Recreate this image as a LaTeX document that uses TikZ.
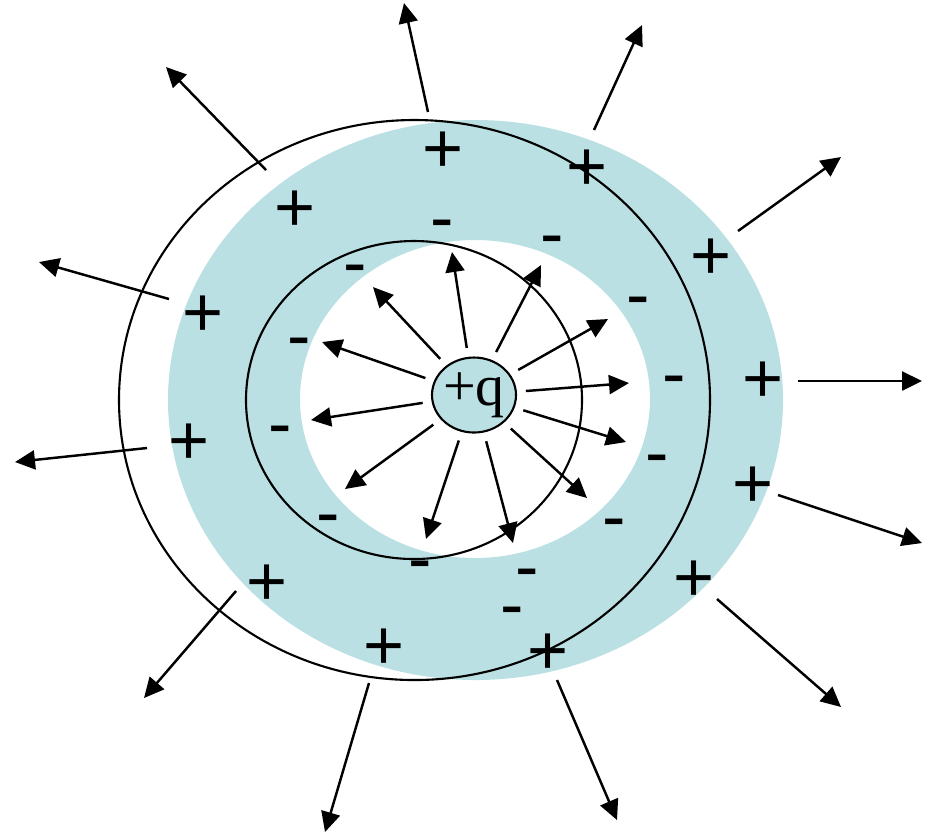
\documentclass[tikz,border=0pt]{standalone}
\usepackage{fontspec}
\setmainfont{Liberation Serif}
\newfontfamily\arial{Liberation Sans}
\usepackage{tikz}
\usetikzlibrary{shapes.geometric,arrows.meta}
\definecolor{bleuPale}{RGB}{186,224,227}

\begin{document}
\begin{tikzpicture}[x=0.1mm,y=-0.1mm,
  fleche/.style={->,>={Triangle[length=2mm,width=1.9mm]},line width=0.7pt},
  contour/.style={line width=0.6pt},
  plus/.style={font=\arial\fontsize{20}{20}\selectfont,inner sep=0pt,anchor=base,yshift=-7pt},
  moins/.style={font=\arial\fontsize{20}{20}\selectfont,inner sep=0pt,anchor=base,yshift=-5.3pt},
  charge/.style={ellipse,draw,line width=0.6pt,fill=bleuPale,inner sep=-3pt,
                 minimum width=8.4mm,minimum height=7.5mm,font=\fontsize{16.5}{16.5}\selectfont}]

  \useasboundingbox (0,0) rectangle (935,835);

  % couronne conductrice
  \fill[bleuPale,even odd rule] (475.5,400) ellipse [x radius=307.5,y radius=280]
                                (475,399) ellipse [x radius=175,y radius=159];
  \draw[contour] (414.5,400) ellipse [x radius=295.5,y radius=280];
  \draw[contour] (414,400) ellipse [x radius=168,y radius=159];

  % champ a l'exterieur
  \coordinate (e1a) at (428,112);  \coordinate (e1b) at (404,3);
  \coordinate (e2a) at (266,170);  \coordinate (e2b) at (166,67);
  \coordinate (e3a) at (169,299);  \coordinate (e3b) at (39,262);
  \coordinate (e4a) at (147,448);  \coordinate (e4b) at (15,462);
  \coordinate (e5a) at (236,591);  \coordinate (e5b) at (144,698);
  \coordinate (e6a) at (369,683);  \coordinate (e6b) at (325,832);
  \coordinate (e7a) at (557,680);  \coordinate (e7b) at (617,820);
  \coordinate (e8a) at (717,599);  \coordinate (e8b) at (841,707);
  \coordinate (e9a) at (778,495);  \coordinate (e9b) at (922,543);
  \coordinate (e10a) at (798,381); \coordinate (e10b) at (922,381);
  \coordinate (e11a) at (738,231); \coordinate (e11b) at (841,157);
  \coordinate (e12a) at (594,130); \coordinate (e12b) at (642,25);
  \draw[fleche] (e1a) -- (e1b);
  \draw[fleche] (e2a) -- (e2b);
  \draw[fleche] (e3a) -- (e3b);
  \draw[fleche] (e4a) -- (e4b);
  \draw[fleche] (e5a) -- (e5b);
  \draw[fleche] (e6a) -- (e6b);
  \draw[fleche] (e7a) -- (e7b);
  \draw[fleche] (e8a) -- (e8b);
  \draw[fleche] (e9a) -- (e9b);
  \draw[fleche] (e10a) -- (e10b);
  \draw[fleche] (e11a) -- (e11b);
  \draw[fleche] (e12a) -- (e12b);

  % charges induites
  \node[plus] (p1) at (443,148) {+};
  \node[plus] (p2) at (295,207) {+};
  \node[plus] (p3) at (203,312) {+};
  \node[plus] (p4) at (189,440) {+};
  \node[plus] (p5) at (267,581) {+};
  \node[plus] (p6) at (384,645) {+};
  \node[plus] (p7) at (548,650) {+};
  \node[plus] (p8) at (694,577) {+};
  \node[plus] (p9) at (753,483) {+};
  \node[plus] (p10) at (763,378) {+};
  \node[plus] (p11) at (711,255) {+};
  \node[plus] (p12) at (587,166) {+};

  \node[moins] (m1) at (442,223) {-};
  \node[moins] (m2) at (355,268) {-};
  \node[moins] (m3) at (299,341) {-};
  \node[moins] (m4) at (280,429) {-};
  \node[moins] (m5) at (328,518) {-};
  \node[moins] (m6) at (420,564) {-};
  \node[moins] (m7) at (527,572) {-};
  \node[moins] (m8) at (512,610) {-};
  \node[moins] (m9) at (614,522) {-};
  \node[moins] (m10) at (657,458) {-};
  \node[moins] (m11) at (674,379) {-};
  \node[moins] (m12) at (638,300) {-};
  \node[moins] (m13) at (552,239) {-};

  % charge centrale et champ a l'interieur
  \node[charge] (q) at (474,395) {+q};

  \coordinate (t1) at (452,252);  \coordinate (t2) at (541,265);
  \coordinate (t3) at (608,319);  \coordinate (t4) at (629,383);
  \coordinate (t5) at (626,442);  \coordinate (t6) at (587,498);
  \coordinate (t7) at (513,543);  \coordinate (t8) at (426,539);
  \coordinate (t9) at (345,489);  \coordinate (t10) at (311,420);
  \coordinate (t11) at (322,342); \coordinate (t12) at (373,287);
  \draw[fleche,shorten <=0.9mm] (q) -- (t1);
  \draw[fleche,shorten <=0.9mm] (q) -- (t2);
  \draw[fleche,shorten <=0.9mm] (q) -- (t3);
  \draw[fleche,shorten <=0.9mm] (q) -- (t4);
  \draw[fleche,shorten <=0.9mm] (q) -- (t5);
  \draw[fleche,shorten <=0.9mm] (q) -- (t6);
  \draw[fleche,shorten <=0.9mm] (q) -- (t7);
  \draw[fleche,shorten <=0.9mm] (q) -- (t8);
  \draw[fleche,shorten <=0.9mm] (q) -- (t9);
  \draw[fleche,shorten <=0.9mm] (q) -- (t10);
  \draw[fleche,shorten <=0.9mm] (q) -- (t11);
  \draw[fleche,shorten <=0.9mm] (q) -- (t12);
\end{tikzpicture}
\end{document}
